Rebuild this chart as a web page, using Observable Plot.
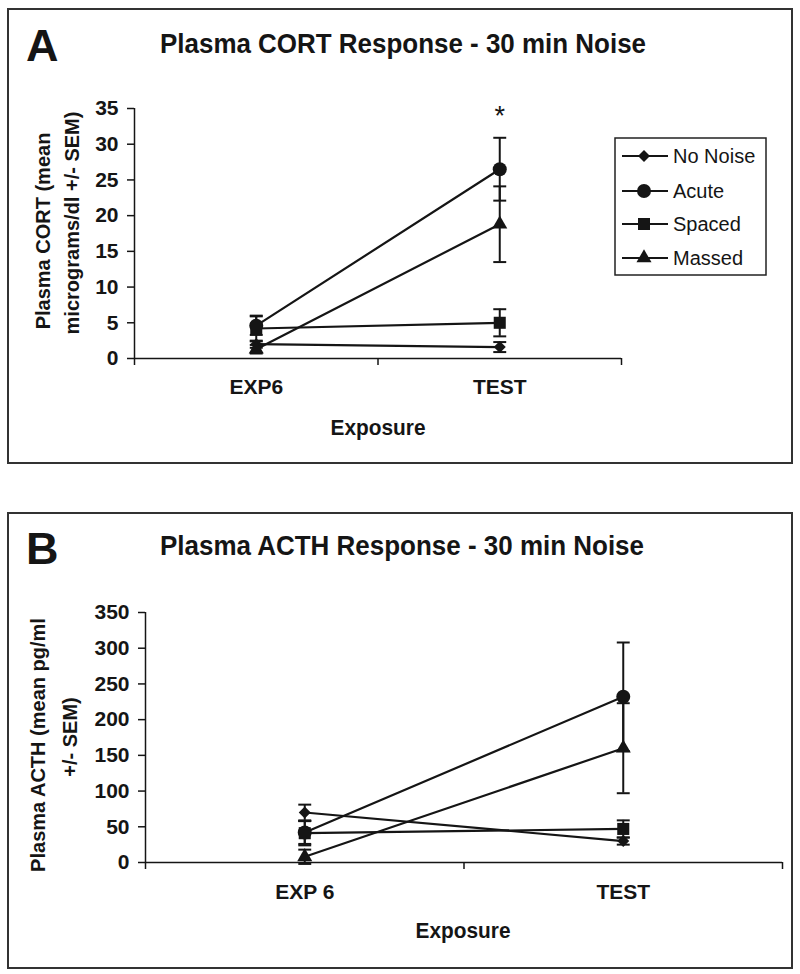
<!DOCTYPE html>
<html><head><meta charset="utf-8">
<script src="https://cdn.jsdelivr.net/npm/d3@7"></script>
<script src="https://cdn.jsdelivr.net/npm/@observablehq/plot@0.6"></script>
<style>
body{margin:0;background:#fff;width:800px;height:974px;position:relative;overflow:hidden;font-family:"Liberation Sans",Arial,sans-serif;}
.panel{position:absolute;left:8px;width:784px;}
#overlay{position:absolute;left:0;top:0;pointer-events:none;}
</style></head><body>
<div id="pA" class="panel" style="top:9px;height:454px"></div>
<div id="pB" class="panel" style="top:513px;height:455px"></div>
<svg id="overlay" width="800" height="974"></svg>
<script>
// ---- data ----
const groups = ["No Noise", "Acute", "Spaced", "Massed"];
const symbolNames = ["diamond2", "circle", "square", "triangle"];
const catsA = ["EXP6", "TEST"];
const catsB = ["EXP 6", "TEST"];
// Panel A: plasma CORT (micrograms/dl), per group [EXP6, TEST]
const cortMean = [[2.0, 1.6], [4.6, 26.5], [4.2, 5.0], [1.3, 18.8]];
const cortSem  = [[0.5, 0.7], [1.3, 4.4], [1.8, 1.9], [0.6, 5.3]];
const cortTicks = [0, 5, 10, 15, 20, 25, 30, 35];
const cortSig = [{cat: "TEST", value: 35, label: "*"}];
// Panel B: plasma ACTH (pg/ml), per group [EXP 6, TEST]
const acthMean = [[70, 30], [42, 232], [41, 47], [8, 160]];
const acthSem  = [[11, 5], [16, 76], [17, 12], [10, 63]];
const acthTicks = [0, 50, 100, 150, 200, 250, 300, 350];

const INK = "#151515";
const FONT = '"Liberation Sans", Arial, sans-serif';
const markerR = {"diamond2": 5.4, "circle": 7, "square": 6.8, "triangle": 5.6};
const capSymbol = {draw(ctx, size) { const w = Math.sqrt(size) / 2; ctx.moveTo(-w, 0); ctx.lineTo(w, 0); }};

function rows(cats, means, sems) {
  const out = [];
  groups.forEach((g, gi) => cats.forEach((c, ci) => {
    const m = means[gi][ci], s = sems[gi][ci];
    out.push({group: g, gi, cat: c, x: ci + 0.5, y: m, lo: m - s, hi: m + s});
  }));
  return out;
}

function panel(cats, means, sems, ticks, ymax, margins, height, sig, labelPad) {
  const data = rows(cats, means, sems);
  const marks = [
    Plot.ruleX([0], {stroke: INK, strokeWidth: 1.5}),
    Plot.ruleY([0], {stroke: INK, strokeWidth: 1.5}),
    Plot.axisY({ticks, tickSize: 7, tickPadding: 9, label: null, stroke: INK, strokeWidth: 1.5}),
    Plot.axisX({ticks: [0, 1, 2], tickSize: 7, tickFormat: () => "", label: null, stroke: INK, strokeWidth: 1.5}),
    Plot.axisX({ticks: [0.5, 1.5], tickSize: 0, tickPadding: labelPad, tickFormat: d => cats[Math.floor(d)], label: null}),
    Plot.line(data, {x: "x", y: "y", z: "group", stroke: INK, strokeWidth: 2.2}),
    Plot.ruleX(data, {x: "x", y1: "lo", y2: "hi", stroke: INK, strokeWidth: 2}),
    Plot.dot(data, {x: "x", y: "hi", symbol: capSymbol, r: 7.3, stroke: INK, strokeWidth: 2, fill: "none"}),
    Plot.dot(data, {x: "x", y: "lo", symbol: capSymbol, r: 7.3, stroke: INK, strokeWidth: 2, fill: "none"})
  ];
  groups.forEach((g, gi) => {
    const s = symbolNames[gi];
    marks.push(Plot.dot(data.filter(d => d.gi === gi), {x: "x", y: "y", symbol: s, r: markerR[s], fill: INK, stroke: "none"}));
  });
  if (sig) marks.push(Plot.text(sig, {x: d => cats.indexOf(d.cat) + 0.5, y: "value", text: "label", fontSize: 27, fontWeight: "normal", dy: 8, fill: INK}));
  return Plot.plot({
    width: 784, height,
    marginLeft: margins[0], marginRight: margins[1], marginTop: margins[2], marginBottom: margins[3],
    x: {type: "linear", domain: [0, 2], axis: null},
    y: {domain: [0, ymax], axis: null},
    style: {fontFamily: FONT, fontSize: "21px", fontWeight: "bold", color: INK, background: "transparent", overflow: "visible"},
    marks
  });
}

document.getElementById("pA").appendChild(panel(catsA, cortMean, cortSem, cortTicks, 35, [126, 171, 99, 105], 454, cortSig, 21));
document.getElementById("pB").appendChild(panel(catsB, acthMean, acthSem, acthTicks, 350, [137, 10, 99, 106], 455, null, 22));

// ---- overlay: frames, panel letters, titles, axis titles, legend ----
const ov = d3.select("#overlay").attr("font-family", FONT).attr("fill", INK);
[[8, 9, 784, 454], [8, 513, 784, 455]].forEach(([x, y, w, h]) =>
  ov.append("rect").attr("x", x).attr("y", y).attr("width", w).attr("height", h).attr("fill", "none").attr("stroke", "#333").attr("stroke-width", 2));

function txt(t, x, y, size, weight, anchor, extra) {
  const e = ov.append("text").attr("x", x).attr("y", y).attr("font-size", size).attr("font-weight", weight)
    .attr("text-anchor", anchor || "start").text(t);
  if (extra) extra(e);
  return e;
}
txt("A", 26, 61, 45, "bold");
txt("B", 26, 564, 45, "bold");
txt("Plasma CORT Response - 30 min Noise", 403, 53, 28, "bold", "middle", e => e.attr("textLength", 486).attr("lengthAdjust", "spacingAndGlyphs"));
txt("Plasma ACTH Response - 30 min Noise", 402, 555, 28, "bold", "middle", e => e.attr("textLength", 484).attr("lengthAdjust", "spacingAndGlyphs"));
txt("Exposure", 378, 435, 22, "bold", "middle", e => e.attr("textLength", 95).attr("lengthAdjust", "spacingAndGlyphs"));
txt("Exposure", 463, 938, 22, "bold", "middle", e => e.attr("textLength", 95).attr("lengthAdjust", "spacingAndGlyphs"));
function vtxt(t, cx, cy, size) {
  ov.append("text").attr("transform", `translate(${cx + size * 0.35},${cy}) rotate(-90)`)
    .attr("font-size", size).attr("font-weight", "bold").attr("text-anchor", "middle").text(t);
}
vtxt("Plasma CORT (mean", 43, 231, 20);
vtxt("micrograms/dl +/- SEM)", 72, 223, 20);
vtxt("Plasma ACTH (mean pg/ml", 38, 745, 20);
vtxt("+/- SEM)", 70, 737, 20);

// legend
const lg = ov.append("g");
lg.append("rect").attr("x", 615).attr("y", 138).attr("width", 151).attr("height", 137).attr("fill", "#fff").attr("stroke", "#222").attr("stroke-width", 1.5);
const symMap = {"diamond2": d3.symbolDiamond2, "circle": d3.symbolCircle, "square": d3.symbolSquare, "triangle": d3.symbolTriangle};
const rowY = [156, 191, 224, 258];
groups.forEach((g, gi) => {
  const y = rowY[gi], s = symbolNames[gi], r = markerR[s];
  lg.append("line").attr("x1", 622).attr("x2", 668).attr("y1", y).attr("y2", y).attr("stroke", INK).attr("stroke-width", 2.2);
  lg.append("path").attr("transform", `translate(644,${y})`).attr("d", d3.symbol(symMap[s], Math.PI * r * r)()).attr("fill", INK);
  lg.append("text").attr("x", 673).attr("y", y + 7).attr("font-size", 20).attr("font-weight", "normal").text(g);
});
</script>
</body></html>
